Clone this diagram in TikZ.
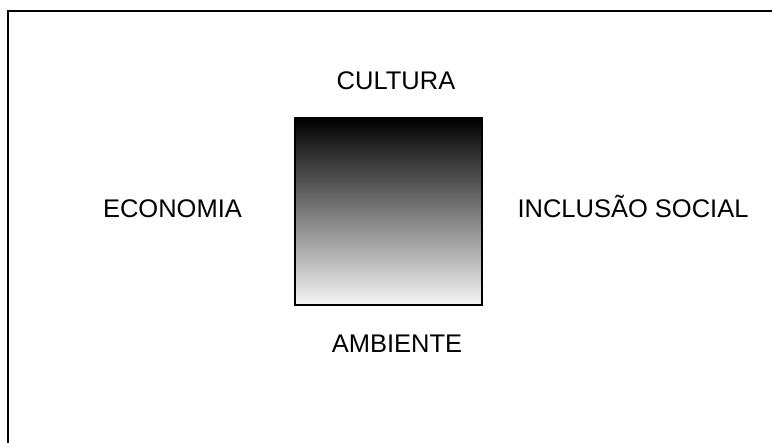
\documentclass[tikz,border=0pt]{standalone}
\usepackage{fontspec}
\setmainfont{Liberation Sans}
\begin{document}
\begin{tikzpicture}[x=1pt,y=1pt,
  lbl/.style={anchor=base,inner sep=0pt,font=\fontsize{25.5}{30}\selectfont},
  frame/.style={line width=1.5pt,black}]
\useasboundingbox (0,0) rectangle (772,443);
\coordinate (fa) at (8,0);
\coordinate (fb) at (8,432);
\coordinate (fc) at (772,432);
\draw[frame] (fa) -- (fb) -- (fc);
\node[draw=black,line width=1.5pt,top color=black,bottom color=white!96!black,
  minimum width=187pt,minimum height=187pt,inner sep=0pt] (sq) at (388.5,231.5) {};
\node[lbl] (cul) at (396,353) {CULTURA};
\node[lbl] (amb) at (397,90) {AMBIENTE};
\node[lbl] (eco) at (172.5,225) {ECONOMIA};
\node[lbl] (inc) at (633,225) {INCLUSÃO SOCIAL};
\end{tikzpicture}
\end{document}
